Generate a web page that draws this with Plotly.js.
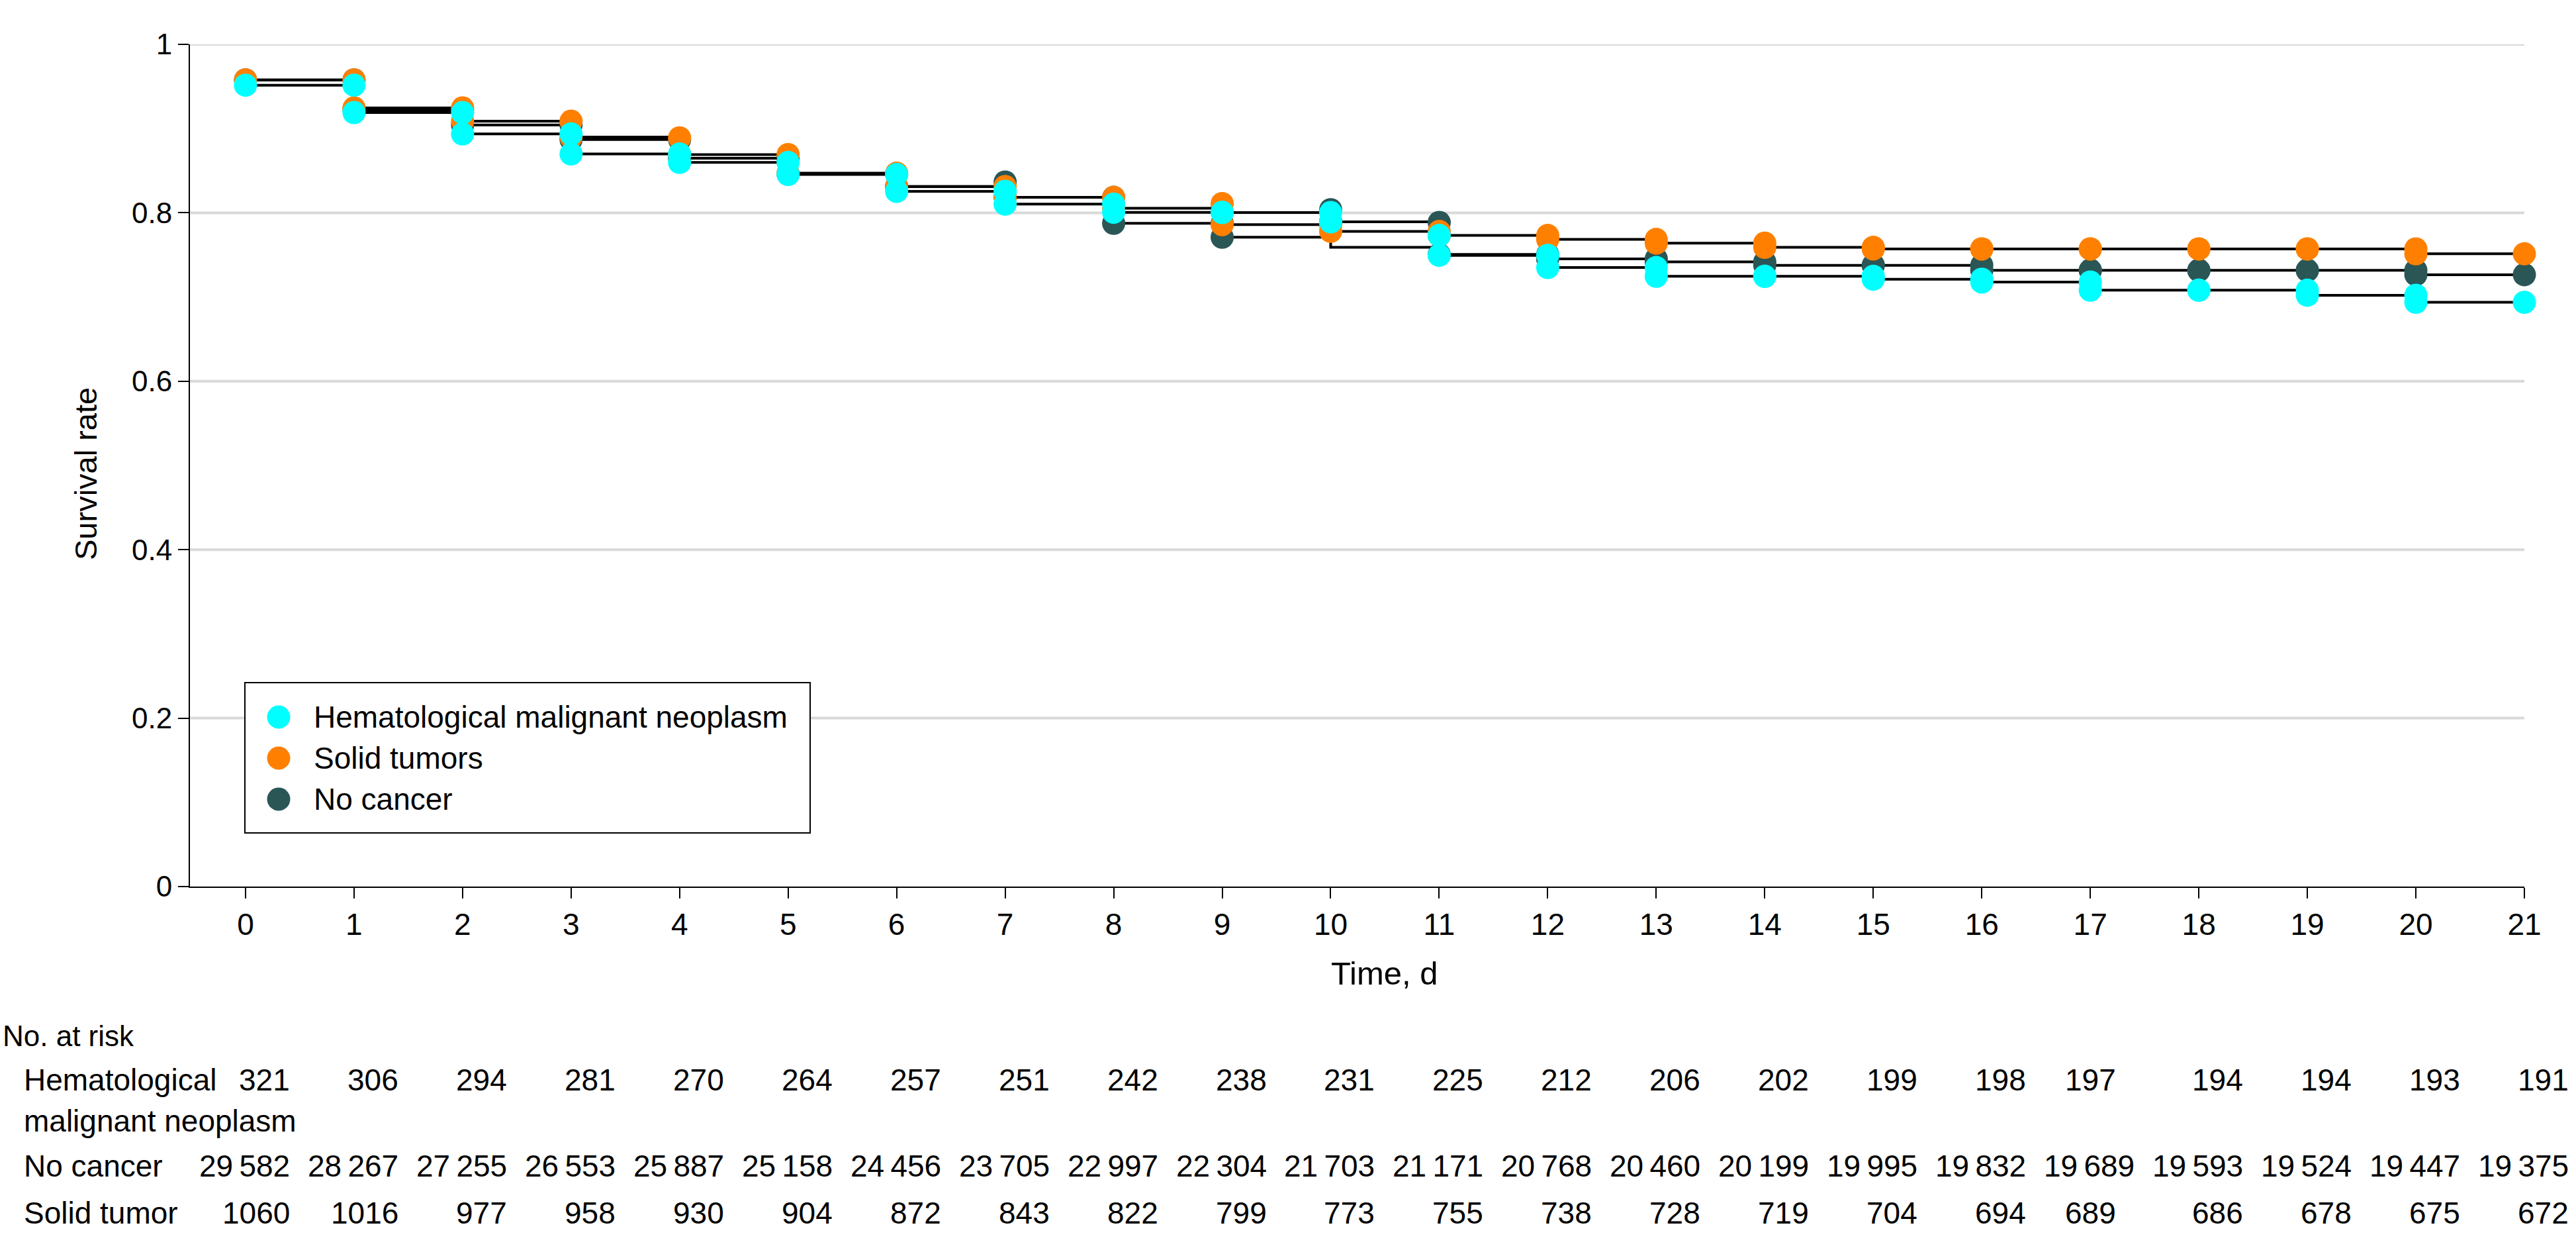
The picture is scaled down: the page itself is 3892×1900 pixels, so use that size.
<!DOCTYPE html>
<html>
<head>
<meta charset="utf-8">
<script src="https://cdn.plot.ly/plotly-3.0.1.min.js"></script>
<style>html,body{margin:0;padding:0;background:#fff;}</style>
</head>
<body>
<div id="chart" style="width:3892px;height:1900px;"></div>
<script>
// ---------------- DATA ----------------
const days = [0,1,2,3,4,5,6,7,8,9,10,11,12,13,14,15,16,17,18,19,20,21];
const seriesNames = ["Hematological malignant neoplasm", "Solid tumors", "No cancer"];
const seriesColors = ["#00FFFF", "#FF8000", "#2A5656"];

// step levels for each interval [d, d+1], d = 0..20
const hemLine   = [0.9515,0.9190,0.8936,0.8698,0.8598,0.8455,0.8255,0.8103,0.8006,0.8003,0.7893,0.7495,0.7350,0.7246,0.7246,0.7212,0.7178,0.7081,0.7081,0.7021,0.6937];
const solidLine = [0.9578,0.9245,0.9088,0.8899,0.8692,0.8470,0.8312,0.8183,0.8055,0.7860,0.7780,0.7731,0.7684,0.7640,0.7590,0.7571,0.7571,0.7571,0.7571,0.7571,0.7513];
const noneLine  = [0.9578,0.9222,0.9043,0.8870,0.8648,0.8462,0.8312,0.8183,0.7875,0.7710,0.7590,0.7505,0.7453,0.7417,0.7377,0.7377,0.7317,0.7317,0.7317,0.7317,0.7265];

// dots: "hi" dots at days 1..21, "lo" dots at days 0..20
const hemDotsHi   = [0.9515,0.9190,0.8936,0.8698,0.8598,0.8455,0.8255,0.8103,0.8006,0.8003,0.7731,0.7495,0.7350,0.7246,0.7246,0.7212,0.7178,0.7081,0.7081,0.7021,0.6937];
const hemDotsLo   = [0.9515,0.9190,0.8936,0.8698,0.8598,0.8455,0.8255,0.8103,0.8006,0.8003,0.7893,0.7495,0.7350,0.7246,0.7246,0.7212,0.7178,0.7081,0.7081,0.7021,0.6937];
const solidDotsHi = [0.9578,0.9245,0.9088,0.8890,0.8692,0.8470,0.8312,0.8183,0.8110,0.7860,0.7780,0.7731,0.7684,0.7640,0.7590,0.7571,0.7571,0.7571,0.7571,0.7571,0.7513];
const solidDotsLo = [0.9578,0.9245,0.9088,0.8899,0.8692,0.8470,0.8312,0.8183,0.8055,0.7860,0.7780,0.7731,0.7684,0.7640,0.7590,0.7571,0.7571,0.7571,0.7571,0.7571,0.7513];
const noneDotsHi  = [0.9578,0.9222,0.9043,0.8870,0.8648,0.8462,0.8365,0.8183,0.7875,0.8037,0.7886,0.7505,0.7453,0.7417,0.7377,0.7377,0.7317,0.7317,0.7317,0.7317,0.7265];
const noneDotsLo  = [0.9578,0.9222,0.9043,0.8870,0.8648,0.8462,0.8312,0.8183,0.7875,0.7710,0.7893,0.7505,0.7453,0.7417,0.7377,0.7377,0.7317,0.7317,0.7317,0.7317,0.7265];

// number at risk
const riskTitle = "No. at risk";
const riskRowLabels = [["Hematological", "malignant neoplasm"], ["No cancer"], ["Solid tumor"]];
const hemRisk   = [321,306,294,281,270,264,257,251,242,238,231,225,212,206,202,199,198,197,194,194,193,191];
const noneRisk  = [29582,28267,27255,26553,25887,25158,24456,23705,22997,22304,21703,21171,20768,20460,20199,19995,19832,19689,19593,19524,19447,19375];
const solidRisk = [1060,1016,977,958,930,904,872,843,822,799,773,755,738,728,719,704,694,689,686,678,675,672];

const yTickVals = [0,0.2,0.4,0.6,0.8,1];
const yTickText = ["0","0.2","0.4","0.6","0.8","1"];
const gridVals  = [0.2,0.4,0.6,0.8,1];

// ---------------- LAYOUT GEOMETRY ----------------
const W = 3892, H = 1900;
const PL = 287, PR = 3814, PT = 67, PB = 1339;
const PW = PR - PL, PH = PB - PT;
const FONT = "Liberation Sans, Arial, sans-serif";
const px2paperX = x => (x - PL) / PW;
const px2paperY = y => (PB - y) / PH;

function fmt(n) {
  const s = String(n);
  if (n >= 10000) return s.slice(0, s.length - 3) + "\u2009" + s.slice(s.length - 3);
  return s;
}

// ---------------- TRACES ----------------
const lineSets = [noneLine, solidLine, hemLine];
const dotSets = [[noneDotsHi, noneDotsLo, 2], [solidDotsHi, solidDotsLo, 1], [hemDotsHi, hemDotsLo, 0]];
const traces = [];
lineSets.forEach(lv => {
  traces.push({
    type: "scatter", mode: "lines",
    x: days, y: lv.concat([lv[lv.length - 1]]),
    line: {color: "#000", width: 4, shape: "hv"},
    hoverinfo: "skip", showlegend: false, cliponaxis: false
  });
});
dotSets.forEach(([hi, lo, idx]) => {
  traces.push({
    type: "scatter", mode: "markers",
    name: seriesNames[idx],
    x: days.slice(1).concat(days.slice(0, 21)),
    y: hi.concat(lo),
    marker: {size: 35, color: seriesColors[idx], line: {width: 0}},
    showlegend: false, cliponaxis: false
  });
});

// ---------------- SHAPES ----------------
const shapes = [];
gridVals.forEach(v => shapes.push({
  type: "line", xref: "paper", yref: "y", x0: 0, x1: 1, y0: v, y1: v,
  line: {color: "#d9d9d9", width: 4}, layer: "below"
}));
// legend box
shapes.push({
  type: "rect", xref: "paper", yref: "paper",
  x0: px2paperX(370), x1: px2paperX(1224), y0: px2paperY(1258), y1: px2paperY(1031),
  line: {color: "#000", width: 2}, fillcolor: "#fff", layer: "above"
});
const legendRowsY = [1083, 1145, 1207];
seriesNames.forEach((n, i) => {
  shapes.push({
    type: "circle", xref: "paper", yref: "paper",
    xsizemode: "pixel", ysizemode: "pixel",
    xanchor: px2paperX(421), yanchor: px2paperY(legendRowsY[i]),
    x0: -17.5, x1: 17.5, y0: -17.5, y1: 17.5,
    fillcolor: seriesColors[i], line: {width: 0}, layer: "above"
  });
});

// ---------------- ANNOTATIONS ----------------
const ann = [];
seriesNames.forEach((n, i) => ann.push({
  xref: "paper", yref: "paper", x: px2paperX(472), y: px2paperY(legendRowsY[i]),
  xanchor: "left", yanchor: "middle", text: n, showarrow: false,
  font: {family: FONT, size: 46, color: "#000"}
}));
// axis titles
ann.push({
  xref: "x", yref: "paper", x: 10.5, y: px2paperY(1470), text: "Time, d",
  xanchor: "center", yanchor: "middle", showarrow: false,
  font: {family: FONT, size: 49, color: "#000"}
});
ann.push({
  xref: "paper", yref: "paper", x: px2paperX(129), y: px2paperY(716), text: "Survival rate",
  textangle: -90, xanchor: "center", yanchor: "middle", showarrow: false,
  font: {family: FONT, size: 47, color: "#000"}
});
// number at risk table
ann.push({
  xref: "paper", yref: "paper", x: px2paperX(2), y: px2paperY(1565), text: riskTitle,
  xanchor: "left", yanchor: "middle", showarrow: false,
  font: {family: FONT, size: 44, color: "#000"}
});
const rowY = [[1631, 1693], [1761], [1832]];
riskRowLabels.forEach((lines, r) => lines.forEach((t, k) => ann.push({
  xref: "paper", yref: "paper", x: px2paperX(34), y: px2paperY(rowY[r][k]), text: t,
  xanchor: "left", yanchor: "middle", showarrow: false,
  font: {family: FONT, size: 46, color: "#000"}
})));
const riskRows = [hemRisk, noneRisk, solidRisk];
riskRows.forEach((vals, r) => vals.forEach((v, i) => {
  const centered = (i === 17 && r !== 1);
  ann.push({
    xref: "x", yref: "paper", x: days[i], y: px2paperY(rowY[r][0]),
    text: fmt(v), showarrow: false,
    xanchor: centered ? "center" : "right", xshift: centered ? 0 : 69,
    yanchor: "middle",
    font: {family: FONT, size: 46, color: "#000"}
  });
}));

// ---------------- LAYOUT ----------------
const layout = {
  width: W, height: H,
  margin: {l: PL, r: W - PR, t: PT, b: H - PB, pad: 0},
  paper_bgcolor: "#fff", plot_bgcolor: "#fff",
  font: {family: FONT, color: "#000"},
  showlegend: false,
  xaxis: {
    range: [-0.512, 21], tickvals: days, ticktext: days.map(String),
    showgrid: false, zeroline: false, showline: true, linecolor: "#000", linewidth: 2,
    ticks: "outside", ticklen: 16, tickwidth: 2, tickcolor: "#000",
    tickfont: {family: FONT, size: 46, color: "#000"}, fixedrange: true
  },
  yaxis: {
    range: [0, 1], tickvals: yTickVals, ticktext: yTickText,
    showgrid: false, zeroline: false, showline: true, linecolor: "#000", linewidth: 2,
    ticks: "outside", ticklen: 16, tickwidth: 2, tickcolor: "#000",
    tickfont: {family: FONT, size: 44, color: "#000"}, fixedrange: true
  },
  shapes: shapes,
  annotations: ann
};

Plotly.newPlot("chart", traces, layout, {staticPlot: true, displayModeBar: false});
</script>
</body>
</html>
